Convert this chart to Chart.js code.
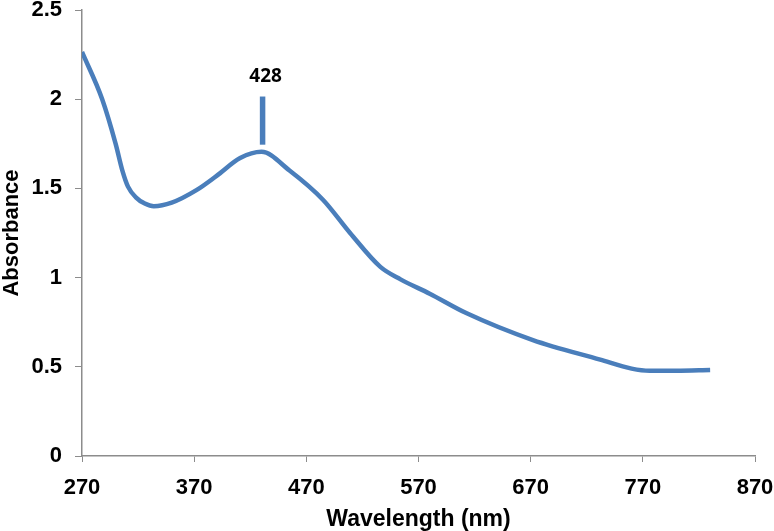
<!DOCTYPE html>
<html>
<head>
<meta charset="utf-8">
<script src="https://cdn.jsdelivr.net/npm/chart.js@4.4.0/dist/chart.umd.min.js"></script>
<style>
  html, body { margin: 0; padding: 0; background: #fff; }
  #wrap { width: 774px; height: 531px; }
</style>
</head>
<body>
<div id="wrap"><canvas id="c"></canvas></div>
<script>
// spectrum
var wavelength = [270, 288, 300, 306, 311, 318, 326, 334, 350, 372, 390, 411, 430, 455, 485, 509, 536, 554, 580, 613, 672, 732, 760, 776, 800, 830];
var absorbance = [2.265, 2.0, 1.75, 1.60, 1.51, 1.45, 1.415, 1.40, 1.42, 1.49, 1.57, 1.67, 1.705, 1.60, 1.435, 1.25, 1.06, 0.99, 0.91, 0.80, 0.65, 0.54, 0.49, 0.478, 0.478, 0.482];
var xTicks = [270, 370, 470, 570, 670, 770, 870];
var yTicks = [0, 0.5, 1, 1.5, 2, 2.5];

// peak marker
var peakLabel = '428';
var peakAt = 431;
var peakMark = [1.745, 2.015];
var peakLabelY = 2.125;

var points = [];
for (var i = 0; i < wavelength.length; i++) {
    points.push({x: wavelength[i], y: absorbance[i]});
}

var peakPlugin = {
    id: 'peak',
    afterDatasetsDraw: function(chart) {
        var ctx = chart.ctx;
        var xs = chart.scales.x, ys = chart.scales.y;
        var px = xs.getPixelForValue(peakAt);
        ctx.save();
        ctx.strokeStyle = '#4A7EBB';
        ctx.lineWidth = 5.5;
        ctx.beginPath();
        ctx.moveTo(px, ys.getPixelForValue(peakMark[0]));
        ctx.lineTo(px, ys.getPixelForValue(peakMark[1]));
        ctx.stroke();
        ctx.fillStyle = '#000';
        ctx.font = 'bold 19px "Open Sans"';
        ctx.textAlign = 'center';
        ctx.textBaseline = 'middle';
        ctx.fillText(peakLabel, px + 3, ys.getPixelForValue(peakLabelY));
        ctx.restore();
    }
};

var axisColor = '#8c8c8c';
var tickFont = {family: '"Liberation Sans", Arial, sans-serif', size: 22, weight: 'bold'};

var chart = new Chart(document.getElementById('c'), {
    type: 'line',
    data: {
        datasets: [{
            data: points,
            borderColor: '#4A7EBB',
            borderWidth: 4.5,
            pointRadius: 0,
            fill: false,
            cubicInterpolationMode: 'monotone'
        }]
    },
    options: {
        responsive: true,
        maintainAspectRatio: false,
        animation: false,
        layout: {padding: {left: 0, right: 19, top: 10, bottom: 0}},
        plugins: {legend: {display: false}, tooltip: {enabled: false}},
        scales: {
            x: {
                type: 'linear',
                min: 270,
                max: 870,
                afterBuildTicks: function(axis) {
                    axis.ticks = xTicks.map(function(v) { return {value: v}; });
                },
                afterFit: function(axis) {
                    axis.height = 75;
                    axis.paddingLeft = 0;
                    axis.paddingRight = 0;
                },
                grid: {display: true, drawOnChartArea: false, drawTicks: true, tickLength: 6, color: axisColor},
                border: {color: axisColor, width: 1.5},
                ticks: {color: '#000', font: tickFont, padding: 13, maxRotation: 0, autoSkip: false},
                title: {
                    display: true,
                    text: 'Wavelength (nm)',
                    color: '#000',
                    font: {family: '"Liberation Sans", Arial, sans-serif', size: 23, weight: 'bold', lineHeight: 1.0},
                    padding: {top: 0, bottom: 0}
                }
            },
            y: {
                min: 0,
                max: 2.5,
                afterBuildTicks: function(axis) {
                    axis.ticks = yTicks.map(function(v) { return {value: v}; });
                },
                afterFit: function(axis) {
                    axis.width = 82;
                    axis.paddingTop = 0;
                    axis.paddingBottom = 0;
                },
                grid: {display: true, drawOnChartArea: false, drawTicks: true, tickLength: 7, color: axisColor},
                border: {color: axisColor, width: 1.5},
                ticks: {
                    color: '#000',
                    font: tickFont,
                    padding: 13,
                    callback: function(v) { return String(v); }
                },
                title: {
                    display: true,
                    text: 'Absorbance',
                    color: '#000',
                    font: {family: '"Liberation Sans", Arial, sans-serif', size: 22, weight: 'bold', lineHeight: 1.1},
                    padding: {top: 0, bottom: 0}
                }
            }
        }
    },
    plugins: [peakPlugin]
});
</script>
</body>
</html>
